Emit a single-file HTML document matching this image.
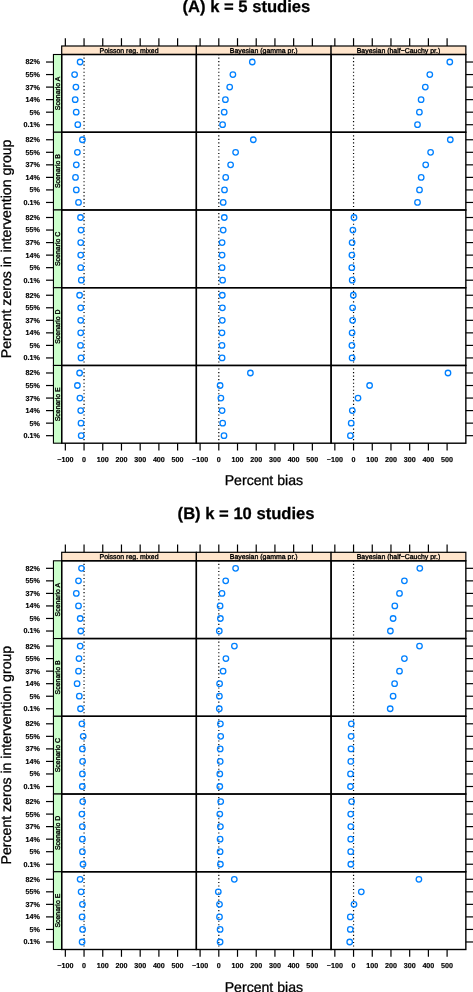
<!DOCTYPE html>
<html><head><meta charset="utf-8"><style>
html,body{margin:0;padding:0;background:#fff;}
body{width:473px;height:992px;overflow:hidden;}
svg{display:block;}
#w{will-change:transform;width:473px;height:992px;}
text{font-family:"Liberation Sans", sans-serif;fill:#000;text-rendering:geometricPrecision;}
.ti{font-size:16.6px;font-weight:bold;stroke:#000;stroke-width:0.25px;}
.sl{font-size:6.95px;stroke:#000;stroke-width:0.35px;}
.tl{font-size:7.2px;font-weight:bold;stroke:#000;stroke-width:0.15px;}
.al{font-size:14.1px;stroke:#000;stroke-width:0.3px;}
.st{fill:#ffe5cc;stroke:#000;stroke-width:1.2;}
.ls{fill:#ccffcc;stroke:#000;stroke-width:1.1;}
.fr{fill:none;stroke:#000;stroke-width:1.4;}
.tk{stroke:#000;stroke-width:1.2;}
.ref{stroke:#000;stroke-width:1.2;stroke-dasharray:1.1 2.43;stroke-dashoffset:0.55;}
.pt{fill:none;stroke:#0080ff;stroke-width:1.3;}
</style></head>
<body><div id="w"><svg width="473" height="992" viewBox="0 0 473 992">
<rect width="473" height="992" fill="#fff"/>
<text x="246.4" y="12.1" text-anchor="middle" class="ti">(A) k = 5 studies</text>
<rect x="61.7" y="46" width="134.65" height="8.5" class="st"/>
<text x="129.02" y="53.2" text-anchor="middle" class="sl">Poisson reg. mixed</text>
<rect x="196.35" y="46" width="134.75" height="8.5" class="st"/>
<text x="263.73" y="53.2" text-anchor="middle" class="sl">Bayesian (gamma pr.)</text>
<rect x="331.1" y="46" width="134.75" height="8.5" class="st"/>
<text x="398.48" y="53.2" text-anchor="middle" class="sl">Bayesian (half−Cauchy pr.)</text>
<rect x="53.45" y="54.5" width="8.25" height="77.74" class="ls"/>
<text x="60.4" y="93.37" text-anchor="middle" class="sl" transform="rotate(-90 60.4 93.37)">Scenario A</text>
<rect x="53.45" y="132.24" width="8.25" height="77.74" class="ls"/>
<text x="60.4" y="171.11" text-anchor="middle" class="sl" transform="rotate(-90 60.4 171.11)">Scenario B</text>
<rect x="53.45" y="209.98" width="8.25" height="77.74" class="ls"/>
<text x="60.4" y="248.85" text-anchor="middle" class="sl" transform="rotate(-90 60.4 248.85)">Scenario C</text>
<rect x="53.45" y="287.72" width="8.25" height="77.74" class="ls"/>
<text x="60.4" y="326.59" text-anchor="middle" class="sl" transform="rotate(-90 60.4 326.59)">Scenario D</text>
<rect x="53.45" y="365.46" width="8.25" height="77.74" class="ls"/>
<text x="60.4" y="404.33" text-anchor="middle" class="sl" transform="rotate(-90 60.4 404.33)">Scenario E</text>
<line x1="84.05" y1="132.24" x2="84.05" y2="54.5" class="ref"/>
<circle cx="80.1" cy="62.02" r="2.75" class="pt"/>
<circle cx="74.6" cy="74.56" r="2.75" class="pt"/>
<circle cx="75.9" cy="87.1" r="2.75" class="pt"/>
<circle cx="75.2" cy="99.64" r="2.75" class="pt"/>
<circle cx="76.2" cy="112.18" r="2.75" class="pt"/>
<circle cx="77.8" cy="124.72" r="2.75" class="pt"/>
<line x1="218.8" y1="132.24" x2="218.8" y2="54.5" class="ref"/>
<circle cx="252.3" cy="62.02" r="2.75" class="pt"/>
<circle cx="232.9" cy="74.56" r="2.75" class="pt"/>
<circle cx="229.7" cy="87.1" r="2.75" class="pt"/>
<circle cx="225.4" cy="99.64" r="2.75" class="pt"/>
<circle cx="224.2" cy="112.18" r="2.75" class="pt"/>
<circle cx="222.6" cy="124.72" r="2.75" class="pt"/>
<line x1="353.55" y1="132.24" x2="353.55" y2="54.5" class="ref"/>
<circle cx="449.8" cy="62.02" r="2.75" class="pt"/>
<circle cx="429.8" cy="74.56" r="2.75" class="pt"/>
<circle cx="425.3" cy="87.1" r="2.75" class="pt"/>
<circle cx="421.1" cy="99.64" r="2.75" class="pt"/>
<circle cx="419.4" cy="112.18" r="2.75" class="pt"/>
<circle cx="417.5" cy="124.72" r="2.75" class="pt"/>
<line x1="84.05" y1="209.98" x2="84.05" y2="132.24" class="ref"/>
<circle cx="82.4" cy="139.76" r="2.75" class="pt"/>
<circle cx="77.4" cy="152.3" r="2.75" class="pt"/>
<circle cx="76.3" cy="164.84" r="2.75" class="pt"/>
<circle cx="75.5" cy="177.38" r="2.75" class="pt"/>
<circle cx="76.3" cy="189.92" r="2.75" class="pt"/>
<circle cx="78.5" cy="202.46" r="2.75" class="pt"/>
<line x1="218.8" y1="209.98" x2="218.8" y2="132.24" class="ref"/>
<circle cx="253.3" cy="139.76" r="2.75" class="pt"/>
<circle cx="235.6" cy="152.3" r="2.75" class="pt"/>
<circle cx="230.6" cy="164.84" r="2.75" class="pt"/>
<circle cx="225.7" cy="177.38" r="2.75" class="pt"/>
<circle cx="224.5" cy="189.92" r="2.75" class="pt"/>
<circle cx="223.2" cy="202.46" r="2.75" class="pt"/>
<line x1="353.55" y1="209.98" x2="353.55" y2="132.24" class="ref"/>
<circle cx="450.3" cy="139.76" r="2.75" class="pt"/>
<circle cx="430.6" cy="152.3" r="2.75" class="pt"/>
<circle cx="425.7" cy="164.84" r="2.75" class="pt"/>
<circle cx="421.2" cy="177.38" r="2.75" class="pt"/>
<circle cx="419.5" cy="189.92" r="2.75" class="pt"/>
<circle cx="417.5" cy="202.46" r="2.75" class="pt"/>
<line x1="84.05" y1="287.72" x2="84.05" y2="209.98" class="ref"/>
<circle cx="80.5" cy="217.5" r="2.75" class="pt"/>
<circle cx="81" cy="230.04" r="2.75" class="pt"/>
<circle cx="80.7" cy="242.58" r="2.75" class="pt"/>
<circle cx="80.7" cy="255.12" r="2.75" class="pt"/>
<circle cx="80.7" cy="267.66" r="2.75" class="pt"/>
<circle cx="81.3" cy="280.2" r="2.75" class="pt"/>
<line x1="218.8" y1="287.72" x2="218.8" y2="209.98" class="ref"/>
<circle cx="224.3" cy="217.5" r="2.75" class="pt"/>
<circle cx="223.2" cy="230.04" r="2.75" class="pt"/>
<circle cx="222.1" cy="242.58" r="2.75" class="pt"/>
<circle cx="222.1" cy="255.12" r="2.75" class="pt"/>
<circle cx="222.1" cy="267.66" r="2.75" class="pt"/>
<circle cx="222.6" cy="280.2" r="2.75" class="pt"/>
<line x1="353.55" y1="287.72" x2="353.55" y2="209.98" class="ref"/>
<circle cx="354" cy="217.5" r="2.75" class="pt"/>
<circle cx="352.9" cy="230.04" r="2.75" class="pt"/>
<circle cx="352.1" cy="242.58" r="2.75" class="pt"/>
<circle cx="351.9" cy="255.12" r="2.75" class="pt"/>
<circle cx="351.8" cy="267.66" r="2.75" class="pt"/>
<circle cx="352.2" cy="280.2" r="2.75" class="pt"/>
<line x1="84.05" y1="365.46" x2="84.05" y2="287.72" class="ref"/>
<circle cx="79.6" cy="295.24" r="2.75" class="pt"/>
<circle cx="80.7" cy="307.78" r="2.75" class="pt"/>
<circle cx="80.7" cy="320.32" r="2.75" class="pt"/>
<circle cx="80.7" cy="332.86" r="2.75" class="pt"/>
<circle cx="80.5" cy="345.4" r="2.75" class="pt"/>
<circle cx="81" cy="357.94" r="2.75" class="pt"/>
<line x1="218.8" y1="365.46" x2="218.8" y2="287.72" class="ref"/>
<circle cx="222.3" cy="295.24" r="2.75" class="pt"/>
<circle cx="222.4" cy="307.78" r="2.75" class="pt"/>
<circle cx="222.3" cy="320.32" r="2.75" class="pt"/>
<circle cx="222" cy="332.86" r="2.75" class="pt"/>
<circle cx="222" cy="345.4" r="2.75" class="pt"/>
<circle cx="222.1" cy="357.94" r="2.75" class="pt"/>
<line x1="353.55" y1="365.46" x2="353.55" y2="287.72" class="ref"/>
<circle cx="353.3" cy="295.24" r="2.75" class="pt"/>
<circle cx="352.6" cy="307.78" r="2.75" class="pt"/>
<circle cx="352.6" cy="320.32" r="2.75" class="pt"/>
<circle cx="352.1" cy="332.86" r="2.75" class="pt"/>
<circle cx="351.9" cy="345.4" r="2.75" class="pt"/>
<circle cx="352.1" cy="357.94" r="2.75" class="pt"/>
<line x1="84.05" y1="443.2" x2="84.05" y2="365.46" class="ref"/>
<circle cx="79.6" cy="372.98" r="2.75" class="pt"/>
<circle cx="77.4" cy="385.52" r="2.75" class="pt"/>
<circle cx="79.9" cy="398.06" r="2.75" class="pt"/>
<circle cx="80.7" cy="410.6" r="2.75" class="pt"/>
<circle cx="81" cy="423.14" r="2.75" class="pt"/>
<circle cx="81.2" cy="435.68" r="2.75" class="pt"/>
<line x1="218.8" y1="443.2" x2="218.8" y2="365.46" class="ref"/>
<circle cx="250.4" cy="372.98" r="2.75" class="pt"/>
<circle cx="220.1" cy="385.52" r="2.75" class="pt"/>
<circle cx="220.9" cy="398.06" r="2.75" class="pt"/>
<circle cx="222.1" cy="410.6" r="2.75" class="pt"/>
<circle cx="222.7" cy="423.14" r="2.75" class="pt"/>
<circle cx="224" cy="435.68" r="2.75" class="pt"/>
<line x1="353.55" y1="443.2" x2="353.55" y2="365.46" class="ref"/>
<circle cx="448" cy="372.98" r="2.75" class="pt"/>
<circle cx="369.6" cy="385.52" r="2.75" class="pt"/>
<circle cx="358" cy="398.06" r="2.75" class="pt"/>
<circle cx="352.3" cy="410.6" r="2.75" class="pt"/>
<circle cx="351.2" cy="423.14" r="2.75" class="pt"/>
<circle cx="350.4" cy="435.68" r="2.75" class="pt"/>
<rect x="61.7" y="54.5" width="134.65" height="77.74" class="fr"/>
<rect x="196.35" y="54.5" width="134.75" height="77.74" class="fr"/>
<rect x="331.1" y="54.5" width="134.75" height="77.74" class="fr"/>
<rect x="61.7" y="132.24" width="134.65" height="77.74" class="fr"/>
<rect x="196.35" y="132.24" width="134.75" height="77.74" class="fr"/>
<rect x="331.1" y="132.24" width="134.75" height="77.74" class="fr"/>
<rect x="61.7" y="209.98" width="134.65" height="77.74" class="fr"/>
<rect x="196.35" y="209.98" width="134.75" height="77.74" class="fr"/>
<rect x="331.1" y="209.98" width="134.75" height="77.74" class="fr"/>
<rect x="61.7" y="287.72" width="134.65" height="77.74" class="fr"/>
<rect x="196.35" y="287.72" width="134.75" height="77.74" class="fr"/>
<rect x="331.1" y="287.72" width="134.75" height="77.74" class="fr"/>
<rect x="61.7" y="365.46" width="134.65" height="77.74" class="fr"/>
<rect x="196.35" y="365.46" width="134.75" height="77.74" class="fr"/>
<rect x="331.1" y="365.46" width="134.75" height="77.74" class="fr"/>
<line x1="65.34" y1="38.2" x2="65.34" y2="46" class="tk"/>
<line x1="65.34" y1="443.2" x2="65.34" y2="450.5" class="tk"/>
<text x="65.34" y="462" text-anchor="middle" class="tl">−100</text>
<line x1="84.05" y1="38.2" x2="84.05" y2="46" class="tk"/>
<line x1="84.05" y1="443.2" x2="84.05" y2="450.5" class="tk"/>
<text x="84.05" y="462" text-anchor="middle" class="tl">0</text>
<line x1="102.76" y1="38.2" x2="102.76" y2="46" class="tk"/>
<line x1="102.76" y1="443.2" x2="102.76" y2="450.5" class="tk"/>
<text x="102.76" y="462" text-anchor="middle" class="tl">100</text>
<line x1="121.47" y1="38.2" x2="121.47" y2="46" class="tk"/>
<line x1="121.47" y1="443.2" x2="121.47" y2="450.5" class="tk"/>
<text x="121.47" y="462" text-anchor="middle" class="tl">200</text>
<line x1="140.18" y1="38.2" x2="140.18" y2="46" class="tk"/>
<line x1="140.18" y1="443.2" x2="140.18" y2="450.5" class="tk"/>
<text x="140.18" y="462" text-anchor="middle" class="tl">300</text>
<line x1="158.89" y1="38.2" x2="158.89" y2="46" class="tk"/>
<line x1="158.89" y1="443.2" x2="158.89" y2="450.5" class="tk"/>
<text x="158.89" y="462" text-anchor="middle" class="tl">400</text>
<line x1="177.6" y1="38.2" x2="177.6" y2="46" class="tk"/>
<line x1="177.6" y1="443.2" x2="177.6" y2="450.5" class="tk"/>
<text x="177.6" y="462" text-anchor="middle" class="tl">500</text>
<line x1="200.09" y1="38.2" x2="200.09" y2="46" class="tk"/>
<line x1="200.09" y1="443.2" x2="200.09" y2="450.5" class="tk"/>
<text x="200.09" y="462" text-anchor="middle" class="tl">−100</text>
<line x1="218.8" y1="38.2" x2="218.8" y2="46" class="tk"/>
<line x1="218.8" y1="443.2" x2="218.8" y2="450.5" class="tk"/>
<text x="218.8" y="462" text-anchor="middle" class="tl">0</text>
<line x1="237.51" y1="38.2" x2="237.51" y2="46" class="tk"/>
<line x1="237.51" y1="443.2" x2="237.51" y2="450.5" class="tk"/>
<text x="237.51" y="462" text-anchor="middle" class="tl">100</text>
<line x1="256.22" y1="38.2" x2="256.22" y2="46" class="tk"/>
<line x1="256.22" y1="443.2" x2="256.22" y2="450.5" class="tk"/>
<text x="256.22" y="462" text-anchor="middle" class="tl">200</text>
<line x1="274.93" y1="38.2" x2="274.93" y2="46" class="tk"/>
<line x1="274.93" y1="443.2" x2="274.93" y2="450.5" class="tk"/>
<text x="274.93" y="462" text-anchor="middle" class="tl">300</text>
<line x1="293.64" y1="38.2" x2="293.64" y2="46" class="tk"/>
<line x1="293.64" y1="443.2" x2="293.64" y2="450.5" class="tk"/>
<text x="293.64" y="462" text-anchor="middle" class="tl">400</text>
<line x1="312.35" y1="38.2" x2="312.35" y2="46" class="tk"/>
<line x1="312.35" y1="443.2" x2="312.35" y2="450.5" class="tk"/>
<text x="312.35" y="462" text-anchor="middle" class="tl">500</text>
<line x1="334.84" y1="38.2" x2="334.84" y2="46" class="tk"/>
<line x1="334.84" y1="443.2" x2="334.84" y2="450.5" class="tk"/>
<text x="334.84" y="462" text-anchor="middle" class="tl">−100</text>
<line x1="353.55" y1="38.2" x2="353.55" y2="46" class="tk"/>
<line x1="353.55" y1="443.2" x2="353.55" y2="450.5" class="tk"/>
<text x="353.55" y="462" text-anchor="middle" class="tl">0</text>
<line x1="372.26" y1="38.2" x2="372.26" y2="46" class="tk"/>
<line x1="372.26" y1="443.2" x2="372.26" y2="450.5" class="tk"/>
<text x="372.26" y="462" text-anchor="middle" class="tl">100</text>
<line x1="390.97" y1="38.2" x2="390.97" y2="46" class="tk"/>
<line x1="390.97" y1="443.2" x2="390.97" y2="450.5" class="tk"/>
<text x="390.97" y="462" text-anchor="middle" class="tl">200</text>
<line x1="409.68" y1="38.2" x2="409.68" y2="46" class="tk"/>
<line x1="409.68" y1="443.2" x2="409.68" y2="450.5" class="tk"/>
<text x="409.68" y="462" text-anchor="middle" class="tl">300</text>
<line x1="428.39" y1="38.2" x2="428.39" y2="46" class="tk"/>
<line x1="428.39" y1="443.2" x2="428.39" y2="450.5" class="tk"/>
<text x="428.39" y="462" text-anchor="middle" class="tl">400</text>
<line x1="447.1" y1="38.2" x2="447.1" y2="46" class="tk"/>
<line x1="447.1" y1="443.2" x2="447.1" y2="450.5" class="tk"/>
<text x="447.1" y="462" text-anchor="middle" class="tl">500</text>
<line x1="46" y1="62.02" x2="53.45" y2="62.02" class="tk"/>
<line x1="465.85" y1="62.02" x2="473.5" y2="62.02" class="tk"/>
<text x="39.9" y="64.47" text-anchor="end" class="tl">82%</text>
<line x1="46" y1="74.56" x2="53.45" y2="74.56" class="tk"/>
<line x1="465.85" y1="74.56" x2="473.5" y2="74.56" class="tk"/>
<text x="39.9" y="77.01" text-anchor="end" class="tl">55%</text>
<line x1="46" y1="87.1" x2="53.45" y2="87.1" class="tk"/>
<line x1="465.85" y1="87.1" x2="473.5" y2="87.1" class="tk"/>
<text x="39.9" y="89.55" text-anchor="end" class="tl">37%</text>
<line x1="46" y1="99.64" x2="53.45" y2="99.64" class="tk"/>
<line x1="465.85" y1="99.64" x2="473.5" y2="99.64" class="tk"/>
<text x="39.9" y="102.09" text-anchor="end" class="tl">14%</text>
<line x1="46" y1="112.18" x2="53.45" y2="112.18" class="tk"/>
<line x1="465.85" y1="112.18" x2="473.5" y2="112.18" class="tk"/>
<text x="39.9" y="114.63" text-anchor="end" class="tl">5%</text>
<line x1="46" y1="124.72" x2="53.45" y2="124.72" class="tk"/>
<line x1="465.85" y1="124.72" x2="473.5" y2="124.72" class="tk"/>
<text x="39.9" y="127.17" text-anchor="end" class="tl">0.1%</text>
<line x1="46" y1="139.76" x2="53.45" y2="139.76" class="tk"/>
<line x1="465.85" y1="139.76" x2="473.5" y2="139.76" class="tk"/>
<text x="39.9" y="142.21" text-anchor="end" class="tl">82%</text>
<line x1="46" y1="152.3" x2="53.45" y2="152.3" class="tk"/>
<line x1="465.85" y1="152.3" x2="473.5" y2="152.3" class="tk"/>
<text x="39.9" y="154.75" text-anchor="end" class="tl">55%</text>
<line x1="46" y1="164.84" x2="53.45" y2="164.84" class="tk"/>
<line x1="465.85" y1="164.84" x2="473.5" y2="164.84" class="tk"/>
<text x="39.9" y="167.29" text-anchor="end" class="tl">37%</text>
<line x1="46" y1="177.38" x2="53.45" y2="177.38" class="tk"/>
<line x1="465.85" y1="177.38" x2="473.5" y2="177.38" class="tk"/>
<text x="39.9" y="179.83" text-anchor="end" class="tl">14%</text>
<line x1="46" y1="189.92" x2="53.45" y2="189.92" class="tk"/>
<line x1="465.85" y1="189.92" x2="473.5" y2="189.92" class="tk"/>
<text x="39.9" y="192.37" text-anchor="end" class="tl">5%</text>
<line x1="46" y1="202.46" x2="53.45" y2="202.46" class="tk"/>
<line x1="465.85" y1="202.46" x2="473.5" y2="202.46" class="tk"/>
<text x="39.9" y="204.91" text-anchor="end" class="tl">0.1%</text>
<line x1="46" y1="217.5" x2="53.45" y2="217.5" class="tk"/>
<line x1="465.85" y1="217.5" x2="473.5" y2="217.5" class="tk"/>
<text x="39.9" y="219.95" text-anchor="end" class="tl">82%</text>
<line x1="46" y1="230.04" x2="53.45" y2="230.04" class="tk"/>
<line x1="465.85" y1="230.04" x2="473.5" y2="230.04" class="tk"/>
<text x="39.9" y="232.49" text-anchor="end" class="tl">55%</text>
<line x1="46" y1="242.58" x2="53.45" y2="242.58" class="tk"/>
<line x1="465.85" y1="242.58" x2="473.5" y2="242.58" class="tk"/>
<text x="39.9" y="245.03" text-anchor="end" class="tl">37%</text>
<line x1="46" y1="255.12" x2="53.45" y2="255.12" class="tk"/>
<line x1="465.85" y1="255.12" x2="473.5" y2="255.12" class="tk"/>
<text x="39.9" y="257.57" text-anchor="end" class="tl">14%</text>
<line x1="46" y1="267.66" x2="53.45" y2="267.66" class="tk"/>
<line x1="465.85" y1="267.66" x2="473.5" y2="267.66" class="tk"/>
<text x="39.9" y="270.11" text-anchor="end" class="tl">5%</text>
<line x1="46" y1="280.2" x2="53.45" y2="280.2" class="tk"/>
<line x1="465.85" y1="280.2" x2="473.5" y2="280.2" class="tk"/>
<text x="39.9" y="282.65" text-anchor="end" class="tl">0.1%</text>
<line x1="46" y1="295.24" x2="53.45" y2="295.24" class="tk"/>
<line x1="465.85" y1="295.24" x2="473.5" y2="295.24" class="tk"/>
<text x="39.9" y="297.69" text-anchor="end" class="tl">82%</text>
<line x1="46" y1="307.78" x2="53.45" y2="307.78" class="tk"/>
<line x1="465.85" y1="307.78" x2="473.5" y2="307.78" class="tk"/>
<text x="39.9" y="310.23" text-anchor="end" class="tl">55%</text>
<line x1="46" y1="320.32" x2="53.45" y2="320.32" class="tk"/>
<line x1="465.85" y1="320.32" x2="473.5" y2="320.32" class="tk"/>
<text x="39.9" y="322.77" text-anchor="end" class="tl">37%</text>
<line x1="46" y1="332.86" x2="53.45" y2="332.86" class="tk"/>
<line x1="465.85" y1="332.86" x2="473.5" y2="332.86" class="tk"/>
<text x="39.9" y="335.31" text-anchor="end" class="tl">14%</text>
<line x1="46" y1="345.4" x2="53.45" y2="345.4" class="tk"/>
<line x1="465.85" y1="345.4" x2="473.5" y2="345.4" class="tk"/>
<text x="39.9" y="347.85" text-anchor="end" class="tl">5%</text>
<line x1="46" y1="357.94" x2="53.45" y2="357.94" class="tk"/>
<line x1="465.85" y1="357.94" x2="473.5" y2="357.94" class="tk"/>
<text x="39.9" y="360.39" text-anchor="end" class="tl">0.1%</text>
<line x1="46" y1="372.98" x2="53.45" y2="372.98" class="tk"/>
<line x1="465.85" y1="372.98" x2="473.5" y2="372.98" class="tk"/>
<text x="39.9" y="375.43" text-anchor="end" class="tl">82%</text>
<line x1="46" y1="385.52" x2="53.45" y2="385.52" class="tk"/>
<line x1="465.85" y1="385.52" x2="473.5" y2="385.52" class="tk"/>
<text x="39.9" y="387.97" text-anchor="end" class="tl">55%</text>
<line x1="46" y1="398.06" x2="53.45" y2="398.06" class="tk"/>
<line x1="465.85" y1="398.06" x2="473.5" y2="398.06" class="tk"/>
<text x="39.9" y="400.51" text-anchor="end" class="tl">37%</text>
<line x1="46" y1="410.6" x2="53.45" y2="410.6" class="tk"/>
<line x1="465.85" y1="410.6" x2="473.5" y2="410.6" class="tk"/>
<text x="39.9" y="413.05" text-anchor="end" class="tl">14%</text>
<line x1="46" y1="423.14" x2="53.45" y2="423.14" class="tk"/>
<line x1="465.85" y1="423.14" x2="473.5" y2="423.14" class="tk"/>
<text x="39.9" y="425.59" text-anchor="end" class="tl">5%</text>
<line x1="46" y1="435.68" x2="53.45" y2="435.68" class="tk"/>
<line x1="465.85" y1="435.68" x2="473.5" y2="435.68" class="tk"/>
<text x="39.9" y="438.13" text-anchor="end" class="tl">0.1%</text>
<text x="263.9" y="485" text-anchor="middle" class="al">Percent bias</text>
<text x="10.8" y="248.85" text-anchor="middle" class="al" transform="rotate(-90 10.8 248.85)">Percent zeros in intervention group</text>
<text x="246.1" y="518.8" text-anchor="middle" class="ti">(B) k = 10 studies</text>
<rect x="61.7" y="552.3" width="134.65" height="8.5" class="st"/>
<text x="129.02" y="558.9" text-anchor="middle" class="sl">Poisson reg. mixed</text>
<rect x="196.35" y="552.3" width="134.75" height="8.5" class="st"/>
<text x="263.73" y="558.9" text-anchor="middle" class="sl">Bayesian (gamma pr.)</text>
<rect x="331.1" y="552.3" width="134.75" height="8.5" class="st"/>
<text x="398.48" y="558.9" text-anchor="middle" class="sl">Bayesian (half−Cauchy pr.)</text>
<rect x="53.45" y="560.8" width="8.25" height="77.74" class="ls"/>
<text x="60.4" y="599.67" text-anchor="middle" class="sl" transform="rotate(-90 60.4 599.67)">Scenario A</text>
<rect x="53.45" y="638.54" width="8.25" height="77.74" class="ls"/>
<text x="60.4" y="677.41" text-anchor="middle" class="sl" transform="rotate(-90 60.4 677.41)">Scenario B</text>
<rect x="53.45" y="716.28" width="8.25" height="77.74" class="ls"/>
<text x="60.4" y="755.15" text-anchor="middle" class="sl" transform="rotate(-90 60.4 755.15)">Scenario C</text>
<rect x="53.45" y="794.02" width="8.25" height="77.74" class="ls"/>
<text x="60.4" y="832.89" text-anchor="middle" class="sl" transform="rotate(-90 60.4 832.89)">Scenario D</text>
<rect x="53.45" y="871.76" width="8.25" height="77.74" class="ls"/>
<text x="60.4" y="910.63" text-anchor="middle" class="sl" transform="rotate(-90 60.4 910.63)">Scenario E</text>
<line x1="84.05" y1="638.54" x2="84.05" y2="560.8" class="ref"/>
<circle cx="81.5" cy="568.32" r="2.75" class="pt"/>
<circle cx="78.5" cy="580.86" r="2.75" class="pt"/>
<circle cx="76.3" cy="593.4" r="2.75" class="pt"/>
<circle cx="78.5" cy="605.94" r="2.75" class="pt"/>
<circle cx="80.2" cy="618.48" r="2.75" class="pt"/>
<circle cx="80.8" cy="631.02" r="2.75" class="pt"/>
<line x1="218.8" y1="638.54" x2="218.8" y2="560.8" class="ref"/>
<circle cx="235.6" cy="568.32" r="2.75" class="pt"/>
<circle cx="225.7" cy="580.86" r="2.75" class="pt"/>
<circle cx="222" cy="593.4" r="2.75" class="pt"/>
<circle cx="220.1" cy="605.94" r="2.75" class="pt"/>
<circle cx="220.4" cy="618.48" r="2.75" class="pt"/>
<circle cx="219.3" cy="631.02" r="2.75" class="pt"/>
<line x1="353.55" y1="638.54" x2="353.55" y2="560.8" class="ref"/>
<circle cx="419.8" cy="568.32" r="2.75" class="pt"/>
<circle cx="404.4" cy="580.86" r="2.75" class="pt"/>
<circle cx="399.5" cy="593.4" r="2.75" class="pt"/>
<circle cx="394.8" cy="605.94" r="2.75" class="pt"/>
<circle cx="393.1" cy="618.48" r="2.75" class="pt"/>
<circle cx="390.4" cy="631.02" r="2.75" class="pt"/>
<line x1="84.05" y1="716.28" x2="84.05" y2="638.54" class="ref"/>
<circle cx="80.2" cy="646.06" r="2.75" class="pt"/>
<circle cx="79" cy="658.6" r="2.75" class="pt"/>
<circle cx="78.5" cy="671.14" r="2.75" class="pt"/>
<circle cx="77.1" cy="683.68" r="2.75" class="pt"/>
<circle cx="79.3" cy="696.22" r="2.75" class="pt"/>
<circle cx="80.5" cy="708.76" r="2.75" class="pt"/>
<line x1="218.8" y1="716.28" x2="218.8" y2="638.54" class="ref"/>
<circle cx="234.4" cy="646.06" r="2.75" class="pt"/>
<circle cx="225.9" cy="658.6" r="2.75" class="pt"/>
<circle cx="223.1" cy="671.14" r="2.75" class="pt"/>
<circle cx="219.6" cy="683.68" r="2.75" class="pt"/>
<circle cx="219.4" cy="696.22" r="2.75" class="pt"/>
<circle cx="219.3" cy="708.76" r="2.75" class="pt"/>
<line x1="353.55" y1="716.28" x2="353.55" y2="638.54" class="ref"/>
<circle cx="419.5" cy="646.06" r="2.75" class="pt"/>
<circle cx="404.4" cy="658.6" r="2.75" class="pt"/>
<circle cx="399.5" cy="671.14" r="2.75" class="pt"/>
<circle cx="394.6" cy="683.68" r="2.75" class="pt"/>
<circle cx="393.1" cy="696.22" r="2.75" class="pt"/>
<circle cx="390.2" cy="708.76" r="2.75" class="pt"/>
<line x1="84.05" y1="794.02" x2="84.05" y2="716.28" class="ref"/>
<circle cx="81.9" cy="723.8" r="2.75" class="pt"/>
<circle cx="83.2" cy="736.34" r="2.75" class="pt"/>
<circle cx="82.4" cy="748.88" r="2.75" class="pt"/>
<circle cx="82.6" cy="761.42" r="2.75" class="pt"/>
<circle cx="82.4" cy="773.96" r="2.75" class="pt"/>
<circle cx="82.3" cy="786.5" r="2.75" class="pt"/>
<line x1="218.8" y1="794.02" x2="218.8" y2="716.28" class="ref"/>
<circle cx="220.4" cy="723.8" r="2.75" class="pt"/>
<circle cx="220.7" cy="736.34" r="2.75" class="pt"/>
<circle cx="220.2" cy="748.88" r="2.75" class="pt"/>
<circle cx="220.2" cy="761.42" r="2.75" class="pt"/>
<circle cx="219.8" cy="773.96" r="2.75" class="pt"/>
<circle cx="219.8" cy="786.5" r="2.75" class="pt"/>
<line x1="353.55" y1="794.02" x2="353.55" y2="716.28" class="ref"/>
<circle cx="351.3" cy="723.8" r="2.75" class="pt"/>
<circle cx="351.1" cy="736.34" r="2.75" class="pt"/>
<circle cx="351" cy="748.88" r="2.75" class="pt"/>
<circle cx="350.8" cy="761.42" r="2.75" class="pt"/>
<circle cx="350.5" cy="773.96" r="2.75" class="pt"/>
<circle cx="350.5" cy="786.5" r="2.75" class="pt"/>
<line x1="84.05" y1="871.76" x2="84.05" y2="794.02" class="ref"/>
<circle cx="82.7" cy="801.54" r="2.75" class="pt"/>
<circle cx="81.9" cy="814.08" r="2.75" class="pt"/>
<circle cx="82.3" cy="826.62" r="2.75" class="pt"/>
<circle cx="82.4" cy="839.16" r="2.75" class="pt"/>
<circle cx="82.4" cy="851.7" r="2.75" class="pt"/>
<circle cx="83" cy="864.24" r="2.75" class="pt"/>
<line x1="218.8" y1="871.76" x2="218.8" y2="794.02" class="ref"/>
<circle cx="220.7" cy="801.54" r="2.75" class="pt"/>
<circle cx="219.8" cy="814.08" r="2.75" class="pt"/>
<circle cx="220.4" cy="826.62" r="2.75" class="pt"/>
<circle cx="220.1" cy="839.16" r="2.75" class="pt"/>
<circle cx="220.1" cy="851.7" r="2.75" class="pt"/>
<circle cx="220.4" cy="864.24" r="2.75" class="pt"/>
<line x1="353.55" y1="871.76" x2="353.55" y2="794.02" class="ref"/>
<circle cx="351.6" cy="801.54" r="2.75" class="pt"/>
<circle cx="350.7" cy="814.08" r="2.75" class="pt"/>
<circle cx="350.8" cy="826.62" r="2.75" class="pt"/>
<circle cx="350.7" cy="839.16" r="2.75" class="pt"/>
<circle cx="350.7" cy="851.7" r="2.75" class="pt"/>
<circle cx="350.8" cy="864.24" r="2.75" class="pt"/>
<line x1="84.05" y1="949.5" x2="84.05" y2="871.76" class="ref"/>
<circle cx="80.1" cy="879.28" r="2.75" class="pt"/>
<circle cx="81.1" cy="891.82" r="2.75" class="pt"/>
<circle cx="82.4" cy="904.36" r="2.75" class="pt"/>
<circle cx="82.1" cy="916.9" r="2.75" class="pt"/>
<circle cx="82.6" cy="929.44" r="2.75" class="pt"/>
<circle cx="82.1" cy="941.98" r="2.75" class="pt"/>
<line x1="218.8" y1="949.5" x2="218.8" y2="871.76" class="ref"/>
<circle cx="234.3" cy="879.28" r="2.75" class="pt"/>
<circle cx="218.3" cy="891.82" r="2.75" class="pt"/>
<circle cx="219.5" cy="904.36" r="2.75" class="pt"/>
<circle cx="219.5" cy="916.9" r="2.75" class="pt"/>
<circle cx="220.1" cy="929.44" r="2.75" class="pt"/>
<circle cx="220.1" cy="941.98" r="2.75" class="pt"/>
<line x1="353.55" y1="949.5" x2="353.55" y2="871.76" class="ref"/>
<circle cx="418.9" cy="879.28" r="2.75" class="pt"/>
<circle cx="361.3" cy="891.82" r="2.75" class="pt"/>
<circle cx="354" cy="904.36" r="2.75" class="pt"/>
<circle cx="350.3" cy="916.9" r="2.75" class="pt"/>
<circle cx="350.3" cy="929.44" r="2.75" class="pt"/>
<circle cx="349.7" cy="941.98" r="2.75" class="pt"/>
<rect x="61.7" y="560.8" width="134.65" height="77.74" class="fr"/>
<rect x="196.35" y="560.8" width="134.75" height="77.74" class="fr"/>
<rect x="331.1" y="560.8" width="134.75" height="77.74" class="fr"/>
<rect x="61.7" y="638.54" width="134.65" height="77.74" class="fr"/>
<rect x="196.35" y="638.54" width="134.75" height="77.74" class="fr"/>
<rect x="331.1" y="638.54" width="134.75" height="77.74" class="fr"/>
<rect x="61.7" y="716.28" width="134.65" height="77.74" class="fr"/>
<rect x="196.35" y="716.28" width="134.75" height="77.74" class="fr"/>
<rect x="331.1" y="716.28" width="134.75" height="77.74" class="fr"/>
<rect x="61.7" y="794.02" width="134.65" height="77.74" class="fr"/>
<rect x="196.35" y="794.02" width="134.75" height="77.74" class="fr"/>
<rect x="331.1" y="794.02" width="134.75" height="77.74" class="fr"/>
<rect x="61.7" y="871.76" width="134.65" height="77.74" class="fr"/>
<rect x="196.35" y="871.76" width="134.75" height="77.74" class="fr"/>
<rect x="331.1" y="871.76" width="134.75" height="77.74" class="fr"/>
<line x1="65.34" y1="544.5" x2="65.34" y2="552.3" class="tk"/>
<line x1="65.34" y1="949.5" x2="65.34" y2="956.8" class="tk"/>
<text x="65.34" y="968.3" text-anchor="middle" class="tl">−100</text>
<line x1="84.05" y1="544.5" x2="84.05" y2="552.3" class="tk"/>
<line x1="84.05" y1="949.5" x2="84.05" y2="956.8" class="tk"/>
<text x="84.05" y="968.3" text-anchor="middle" class="tl">0</text>
<line x1="102.76" y1="544.5" x2="102.76" y2="552.3" class="tk"/>
<line x1="102.76" y1="949.5" x2="102.76" y2="956.8" class="tk"/>
<text x="102.76" y="968.3" text-anchor="middle" class="tl">100</text>
<line x1="121.47" y1="544.5" x2="121.47" y2="552.3" class="tk"/>
<line x1="121.47" y1="949.5" x2="121.47" y2="956.8" class="tk"/>
<text x="121.47" y="968.3" text-anchor="middle" class="tl">200</text>
<line x1="140.18" y1="544.5" x2="140.18" y2="552.3" class="tk"/>
<line x1="140.18" y1="949.5" x2="140.18" y2="956.8" class="tk"/>
<text x="140.18" y="968.3" text-anchor="middle" class="tl">300</text>
<line x1="158.89" y1="544.5" x2="158.89" y2="552.3" class="tk"/>
<line x1="158.89" y1="949.5" x2="158.89" y2="956.8" class="tk"/>
<text x="158.89" y="968.3" text-anchor="middle" class="tl">400</text>
<line x1="177.6" y1="544.5" x2="177.6" y2="552.3" class="tk"/>
<line x1="177.6" y1="949.5" x2="177.6" y2="956.8" class="tk"/>
<text x="177.6" y="968.3" text-anchor="middle" class="tl">500</text>
<line x1="200.09" y1="544.5" x2="200.09" y2="552.3" class="tk"/>
<line x1="200.09" y1="949.5" x2="200.09" y2="956.8" class="tk"/>
<text x="200.09" y="968.3" text-anchor="middle" class="tl">−100</text>
<line x1="218.8" y1="544.5" x2="218.8" y2="552.3" class="tk"/>
<line x1="218.8" y1="949.5" x2="218.8" y2="956.8" class="tk"/>
<text x="218.8" y="968.3" text-anchor="middle" class="tl">0</text>
<line x1="237.51" y1="544.5" x2="237.51" y2="552.3" class="tk"/>
<line x1="237.51" y1="949.5" x2="237.51" y2="956.8" class="tk"/>
<text x="237.51" y="968.3" text-anchor="middle" class="tl">100</text>
<line x1="256.22" y1="544.5" x2="256.22" y2="552.3" class="tk"/>
<line x1="256.22" y1="949.5" x2="256.22" y2="956.8" class="tk"/>
<text x="256.22" y="968.3" text-anchor="middle" class="tl">200</text>
<line x1="274.93" y1="544.5" x2="274.93" y2="552.3" class="tk"/>
<line x1="274.93" y1="949.5" x2="274.93" y2="956.8" class="tk"/>
<text x="274.93" y="968.3" text-anchor="middle" class="tl">300</text>
<line x1="293.64" y1="544.5" x2="293.64" y2="552.3" class="tk"/>
<line x1="293.64" y1="949.5" x2="293.64" y2="956.8" class="tk"/>
<text x="293.64" y="968.3" text-anchor="middle" class="tl">400</text>
<line x1="312.35" y1="544.5" x2="312.35" y2="552.3" class="tk"/>
<line x1="312.35" y1="949.5" x2="312.35" y2="956.8" class="tk"/>
<text x="312.35" y="968.3" text-anchor="middle" class="tl">500</text>
<line x1="334.84" y1="544.5" x2="334.84" y2="552.3" class="tk"/>
<line x1="334.84" y1="949.5" x2="334.84" y2="956.8" class="tk"/>
<text x="334.84" y="968.3" text-anchor="middle" class="tl">−100</text>
<line x1="353.55" y1="544.5" x2="353.55" y2="552.3" class="tk"/>
<line x1="353.55" y1="949.5" x2="353.55" y2="956.8" class="tk"/>
<text x="353.55" y="968.3" text-anchor="middle" class="tl">0</text>
<line x1="372.26" y1="544.5" x2="372.26" y2="552.3" class="tk"/>
<line x1="372.26" y1="949.5" x2="372.26" y2="956.8" class="tk"/>
<text x="372.26" y="968.3" text-anchor="middle" class="tl">100</text>
<line x1="390.97" y1="544.5" x2="390.97" y2="552.3" class="tk"/>
<line x1="390.97" y1="949.5" x2="390.97" y2="956.8" class="tk"/>
<text x="390.97" y="968.3" text-anchor="middle" class="tl">200</text>
<line x1="409.68" y1="544.5" x2="409.68" y2="552.3" class="tk"/>
<line x1="409.68" y1="949.5" x2="409.68" y2="956.8" class="tk"/>
<text x="409.68" y="968.3" text-anchor="middle" class="tl">300</text>
<line x1="428.39" y1="544.5" x2="428.39" y2="552.3" class="tk"/>
<line x1="428.39" y1="949.5" x2="428.39" y2="956.8" class="tk"/>
<text x="428.39" y="968.3" text-anchor="middle" class="tl">400</text>
<line x1="447.1" y1="544.5" x2="447.1" y2="552.3" class="tk"/>
<line x1="447.1" y1="949.5" x2="447.1" y2="956.8" class="tk"/>
<text x="447.1" y="968.3" text-anchor="middle" class="tl">500</text>
<line x1="46" y1="568.32" x2="53.45" y2="568.32" class="tk"/>
<line x1="465.85" y1="568.32" x2="473.5" y2="568.32" class="tk"/>
<text x="39.9" y="570.77" text-anchor="end" class="tl">82%</text>
<line x1="46" y1="580.86" x2="53.45" y2="580.86" class="tk"/>
<line x1="465.85" y1="580.86" x2="473.5" y2="580.86" class="tk"/>
<text x="39.9" y="583.31" text-anchor="end" class="tl">55%</text>
<line x1="46" y1="593.4" x2="53.45" y2="593.4" class="tk"/>
<line x1="465.85" y1="593.4" x2="473.5" y2="593.4" class="tk"/>
<text x="39.9" y="595.85" text-anchor="end" class="tl">37%</text>
<line x1="46" y1="605.94" x2="53.45" y2="605.94" class="tk"/>
<line x1="465.85" y1="605.94" x2="473.5" y2="605.94" class="tk"/>
<text x="39.9" y="608.39" text-anchor="end" class="tl">14%</text>
<line x1="46" y1="618.48" x2="53.45" y2="618.48" class="tk"/>
<line x1="465.85" y1="618.48" x2="473.5" y2="618.48" class="tk"/>
<text x="39.9" y="620.93" text-anchor="end" class="tl">5%</text>
<line x1="46" y1="631.02" x2="53.45" y2="631.02" class="tk"/>
<line x1="465.85" y1="631.02" x2="473.5" y2="631.02" class="tk"/>
<text x="39.9" y="633.47" text-anchor="end" class="tl">0.1%</text>
<line x1="46" y1="646.06" x2="53.45" y2="646.06" class="tk"/>
<line x1="465.85" y1="646.06" x2="473.5" y2="646.06" class="tk"/>
<text x="39.9" y="648.51" text-anchor="end" class="tl">82%</text>
<line x1="46" y1="658.6" x2="53.45" y2="658.6" class="tk"/>
<line x1="465.85" y1="658.6" x2="473.5" y2="658.6" class="tk"/>
<text x="39.9" y="661.05" text-anchor="end" class="tl">55%</text>
<line x1="46" y1="671.14" x2="53.45" y2="671.14" class="tk"/>
<line x1="465.85" y1="671.14" x2="473.5" y2="671.14" class="tk"/>
<text x="39.9" y="673.59" text-anchor="end" class="tl">37%</text>
<line x1="46" y1="683.68" x2="53.45" y2="683.68" class="tk"/>
<line x1="465.85" y1="683.68" x2="473.5" y2="683.68" class="tk"/>
<text x="39.9" y="686.13" text-anchor="end" class="tl">14%</text>
<line x1="46" y1="696.22" x2="53.45" y2="696.22" class="tk"/>
<line x1="465.85" y1="696.22" x2="473.5" y2="696.22" class="tk"/>
<text x="39.9" y="698.67" text-anchor="end" class="tl">5%</text>
<line x1="46" y1="708.76" x2="53.45" y2="708.76" class="tk"/>
<line x1="465.85" y1="708.76" x2="473.5" y2="708.76" class="tk"/>
<text x="39.9" y="711.21" text-anchor="end" class="tl">0.1%</text>
<line x1="46" y1="723.8" x2="53.45" y2="723.8" class="tk"/>
<line x1="465.85" y1="723.8" x2="473.5" y2="723.8" class="tk"/>
<text x="39.9" y="726.25" text-anchor="end" class="tl">82%</text>
<line x1="46" y1="736.34" x2="53.45" y2="736.34" class="tk"/>
<line x1="465.85" y1="736.34" x2="473.5" y2="736.34" class="tk"/>
<text x="39.9" y="738.79" text-anchor="end" class="tl">55%</text>
<line x1="46" y1="748.88" x2="53.45" y2="748.88" class="tk"/>
<line x1="465.85" y1="748.88" x2="473.5" y2="748.88" class="tk"/>
<text x="39.9" y="751.33" text-anchor="end" class="tl">37%</text>
<line x1="46" y1="761.42" x2="53.45" y2="761.42" class="tk"/>
<line x1="465.85" y1="761.42" x2="473.5" y2="761.42" class="tk"/>
<text x="39.9" y="763.87" text-anchor="end" class="tl">14%</text>
<line x1="46" y1="773.96" x2="53.45" y2="773.96" class="tk"/>
<line x1="465.85" y1="773.96" x2="473.5" y2="773.96" class="tk"/>
<text x="39.9" y="776.41" text-anchor="end" class="tl">5%</text>
<line x1="46" y1="786.5" x2="53.45" y2="786.5" class="tk"/>
<line x1="465.85" y1="786.5" x2="473.5" y2="786.5" class="tk"/>
<text x="39.9" y="788.95" text-anchor="end" class="tl">0.1%</text>
<line x1="46" y1="801.54" x2="53.45" y2="801.54" class="tk"/>
<line x1="465.85" y1="801.54" x2="473.5" y2="801.54" class="tk"/>
<text x="39.9" y="803.99" text-anchor="end" class="tl">82%</text>
<line x1="46" y1="814.08" x2="53.45" y2="814.08" class="tk"/>
<line x1="465.85" y1="814.08" x2="473.5" y2="814.08" class="tk"/>
<text x="39.9" y="816.53" text-anchor="end" class="tl">55%</text>
<line x1="46" y1="826.62" x2="53.45" y2="826.62" class="tk"/>
<line x1="465.85" y1="826.62" x2="473.5" y2="826.62" class="tk"/>
<text x="39.9" y="829.07" text-anchor="end" class="tl">37%</text>
<line x1="46" y1="839.16" x2="53.45" y2="839.16" class="tk"/>
<line x1="465.85" y1="839.16" x2="473.5" y2="839.16" class="tk"/>
<text x="39.9" y="841.61" text-anchor="end" class="tl">14%</text>
<line x1="46" y1="851.7" x2="53.45" y2="851.7" class="tk"/>
<line x1="465.85" y1="851.7" x2="473.5" y2="851.7" class="tk"/>
<text x="39.9" y="854.15" text-anchor="end" class="tl">5%</text>
<line x1="46" y1="864.24" x2="53.45" y2="864.24" class="tk"/>
<line x1="465.85" y1="864.24" x2="473.5" y2="864.24" class="tk"/>
<text x="39.9" y="866.69" text-anchor="end" class="tl">0.1%</text>
<line x1="46" y1="879.28" x2="53.45" y2="879.28" class="tk"/>
<line x1="465.85" y1="879.28" x2="473.5" y2="879.28" class="tk"/>
<text x="39.9" y="881.73" text-anchor="end" class="tl">82%</text>
<line x1="46" y1="891.82" x2="53.45" y2="891.82" class="tk"/>
<line x1="465.85" y1="891.82" x2="473.5" y2="891.82" class="tk"/>
<text x="39.9" y="894.27" text-anchor="end" class="tl">55%</text>
<line x1="46" y1="904.36" x2="53.45" y2="904.36" class="tk"/>
<line x1="465.85" y1="904.36" x2="473.5" y2="904.36" class="tk"/>
<text x="39.9" y="906.81" text-anchor="end" class="tl">37%</text>
<line x1="46" y1="916.9" x2="53.45" y2="916.9" class="tk"/>
<line x1="465.85" y1="916.9" x2="473.5" y2="916.9" class="tk"/>
<text x="39.9" y="919.35" text-anchor="end" class="tl">14%</text>
<line x1="46" y1="929.44" x2="53.45" y2="929.44" class="tk"/>
<line x1="465.85" y1="929.44" x2="473.5" y2="929.44" class="tk"/>
<text x="39.9" y="931.89" text-anchor="end" class="tl">5%</text>
<line x1="46" y1="941.98" x2="53.45" y2="941.98" class="tk"/>
<line x1="465.85" y1="941.98" x2="473.5" y2="941.98" class="tk"/>
<text x="39.9" y="944.43" text-anchor="end" class="tl">0.1%</text>
<text x="263.9" y="991.6" text-anchor="middle" class="al">Percent bias</text>
<text x="10.8" y="755.15" text-anchor="middle" class="al" transform="rotate(-90 10.8 755.15)">Percent zeros in intervention group</text>
</svg></div></body></html>
